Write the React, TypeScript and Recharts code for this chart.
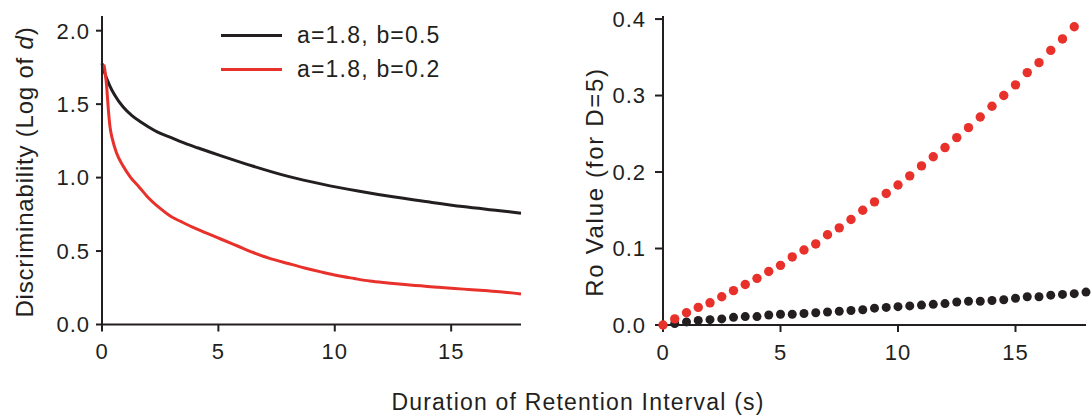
import {
  Legend,
  Line,
  LineChart,
  Scatter,
  ScatterChart,
  XAxis,
  YAxis,
} from "recharts";

const INK = "#231f20";
const RED = "#e8312a";
const FONT = "'Liberation Sans', Arial, Helvetica, sans-serif";

const SLOW_NAME = "a=1.8, b=0.5";
const FAST_NAME = "a=1.8, b=0.2";
const legendOrder = [SLOW_NAME, FAST_NAME];

// d' decay curves: retention interval (s) and log d'
const slowT = [
  0, 0.1, 0.32, 0.55, 0.91, 1.3, 1.65, 2.0, 2.39, 3.0, 3.57, 4.1, 4.6, 5.09,
  6.5, 8.0, 9.5, 11.0, 12.5, 14.0, 15.5, 17.0, 18,
];
const slowD = [
  1.778, 1.72, 1.63, 1.56, 1.48, 1.42, 1.38, 1.345, 1.31, 1.27, 1.233, 1.203,
  1.176, 1.15, 1.077, 1.008, 0.954, 0.909, 0.869, 0.835, 0.803, 0.776, 0.758,
];
const fastT = [
  0.08, 0.15, 0.2, 0.27, 0.34, 0.45, 0.63, 0.9, 1.21, 1.6, 1.95, 2.5, 2.98,
  3.4, 3.86, 4.6, 5.1, 5.8, 6.5, 7.2, 8.0, 8.7, 9.4, 10.1, 10.83, 11.5, 12.27,
  13.0, 13.7, 14.4, 15.14, 15.9, 16.58, 17.3, 18,
];
const fastD = [
  1.77, 1.7, 1.62, 1.47, 1.35, 1.26, 1.165, 1.08, 1.005, 0.935, 0.87, 0.79,
  0.733, 0.7, 0.665, 0.615, 0.582, 0.536, 0.49, 0.45, 0.415, 0.385, 0.358,
  0.333, 0.313, 0.296, 0.283, 0.272, 0.263, 0.254, 0.245, 0.237, 0.229, 0.22,
  0.208,
];

// Ro values sampled every 0.5 s
const roRedT = [
  0, 0.5, 1, 1.5, 2, 2.5, 3, 3.5, 4, 4.5, 5, 5.5, 6, 6.5, 7, 7.5, 8, 8.5, 9,
  9.5, 10, 10.5, 11, 11.5, 12, 12.5, 13, 13.5, 14, 14.5, 15, 15.5, 16, 16.5, 17,
  17.5,
];
const roRed = [
  0.0, 0.008, 0.016, 0.023, 0.029, 0.037, 0.045, 0.053, 0.061, 0.07, 0.078,
  0.089, 0.098, 0.106, 0.118, 0.127, 0.138, 0.15, 0.161, 0.172, 0.183, 0.195,
  0.208, 0.22, 0.232, 0.245, 0.258, 0.272, 0.286, 0.3, 0.314, 0.33, 0.343,
  0.359, 0.374, 0.39,
];
const roBlackT = [
  0.5, 1, 1.5, 2, 2.5, 3, 3.5, 4, 4.5, 5, 5.5, 6, 6.5, 7, 7.5, 8, 8.5, 9, 9.5,
  10, 10.5, 11, 11.5, 12, 12.5, 13, 13.5, 14, 14.5, 15, 15.5, 16, 16.5, 17,
  17.5, 18,
];
const roBlack = [
  0.002, 0.004, 0.006, 0.007, 0.008, 0.01, 0.011, 0.011, 0.013, 0.014, 0.014,
  0.015, 0.016, 0.017, 0.018, 0.019, 0.02, 0.022, 0.023, 0.024, 0.025, 0.026,
  0.027, 0.028, 0.03, 0.031, 0.031, 0.032, 0.033, 0.035, 0.037, 0.037, 0.039,
  0.04, 0.041, 0.043,
];

const xTicks = [0, 5, 10, 15];
const dTicks = [0, 0.5, 1, 1.5, 2];
const roTicks = [0, 0.1, 0.2, 0.3, 0.4];

const zip = (xs: number[], ys: number[]) => xs.map((t, i) => ({ t, v: ys[i] }));

const tickStyle = { fontSize: 22, fill: INK, letterSpacing: 1, fontFamily: FONT };
const axisLine = { stroke: INK, strokeWidth: 2 };

function LegendBox({ payload }: any) {
  const items = [...(payload || [])].sort(
    (a: any, b: any) => legendOrder.indexOf(a.value) - legendOrder.indexOf(b.value),
  );
  return (
    <div style={{ fontFamily: FONT }}>
      {items.map((p: any) => (
        <div
          key={p.value}
          style={{ display: "flex", alignItems: "center", height: 34 }}
        >
          <span
            style={{
              display: "inline-block",
              width: 61,
              height: 3,
              background: p.color,
              marginRight: 15,
            }}
          />
          <span style={{ fontSize: 23, letterSpacing: 1.2, color: INK }}>
            {p.value}
          </span>
        </div>
      ))}
    </div>
  );
}

const dot = (color: string, r: number) => (props: any) =>
  <circle cx={props.cx} cy={props.cy} r={r} fill={color} />;

export default function App() {
  return (
    <div
      style={{
        position: "absolute",
        left: 0,
        top: 0,
        width: 1091,
        height: 415,
        background: "#fff",
      }}
    >
      <div style={{ position: "absolute", left: 0, top: 0 }}>
        <LineChart
          width={540}
          height={415}
          margin={{ top: 16, right: 19, bottom: 0, left: 0 }}
        >
          <XAxis
            type="number"
            dataKey="t"
            domain={[0, 18]}
            ticks={xTicks}
            height={90.5}
            axisLine={axisLine}
            tickLine={axisLine}
            tickSize={7}
            tickMargin={12}
            tick={tickStyle}
          />
          <YAxis
            type="number"
            dataKey="v"
            domain={[0, 2.1]}
            ticks={dTicks}
            width={102}
            axisLine={axisLine}
            tickLine={axisLine}
            tickSize={6}
            tickMargin={6}
            tick={tickStyle}
            tickFormatter={(v: number) => v.toFixed(1)}
          />
          <Legend
            layout="vertical"
            align="center"
            verticalAlign="middle"
            wrapperStyle={{ left: 221, top: 18, width: "auto" }}
            content={<LegendBox />}
          />
          <Line
            name={SLOW_NAME}
            data={zip(slowT, slowD)}
            dataKey="v"
            type="monotone"
            stroke={INK}
            strokeWidth={3}
            dot={false}
            isAnimationActive={false}
          />
          <Line
            name={FAST_NAME}
            data={zip(fastT, fastD)}
            dataKey="v"
            type="monotone"
            stroke={RED}
            strokeWidth={3}
            dot={false}
            isAnimationActive={false}
          />
        </LineChart>
      </div>

      <div style={{ position: "absolute", left: 545, top: 0 }}>
        <ScatterChart
          width={546}
          height={415}
          margin={{ top: 16, right: 5, bottom: 0, left: 0 }}
        >
          <XAxis
            type="number"
            dataKey="t"
            domain={[0, 18]}
            ticks={xTicks}
            height={90}
            axisLine={axisLine}
            tickLine={axisLine}
            tickSize={7}
            tickMargin={12}
            tick={tickStyle}
          />
          <YAxis
            type="number"
            dataKey="v"
            domain={[0, 0.404]}
            ticks={roTicks}
            width={118}
            axisLine={axisLine}
            tickLine={axisLine}
            tickSize={8}
            tickMargin={9}
            tick={tickStyle}
            tickFormatter={(v: number) => v.toFixed(1)}
          />
          <Scatter
            data={zip(roBlackT, roBlack)}
            shape={dot(INK, 4.5)}
            isAnimationActive={false}
          />
          <Scatter
            data={zip(roRedT, roRed)}
            shape={dot(RED, 4.7)}
            isAnimationActive={false}
          />
        </ScatterChart>
      </div>

      <svg
        width={1091}
        height={415}
        style={{ position: "absolute", left: 0, top: 0, pointerEvents: "none" }}
        fontFamily={FONT}
        fill={INK}
      >
        <text
          x={33}
          y={172}
          fontSize={24}
          letterSpacing={0.8}
          textAnchor="middle"
          transform="rotate(-90 33 172)"
        >
          Discriminability (Log of <tspan fontStyle="italic">d</tspan>)
        </text>
        <text
          x={603}
          y={182}
          fontSize={24}
          letterSpacing={1.7}
          textAnchor="middle"
          transform="rotate(-90 603 182)"
        >
          Ro Value (for D=5)
        </text>
        <text x={578} y={410} fontSize={23} letterSpacing={1.2} textAnchor="middle">
          Duration of Retention Interval (s)
        </text>
      </svg>
    </div>
  );
}
